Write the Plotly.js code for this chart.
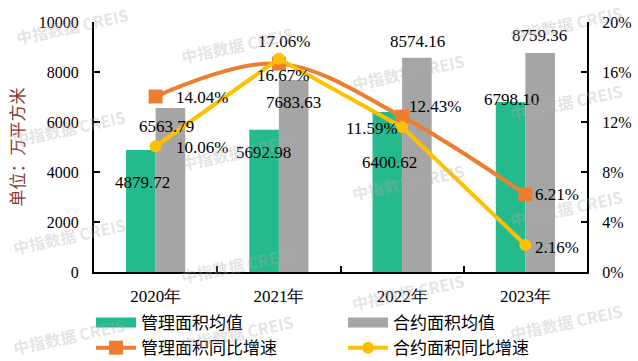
<!DOCTYPE html>
<html>
<head>
<meta charset="utf-8">
<script src="https://cdn.plot.ly/plotly-3.0.1.min.js"></script>
<style>
  html, body { margin: 0; padding: 0; background: #ffffff; }
  #chart { width: 638px; height: 361px; }
</style>
</head>
<body>
<div id="chart"></div>
<script>
// ---- data ----
const years = ['2020年', '2021年', '2022年', '2023年'];
const mgmtArea = [4879.72, 5692.98, 6400.62, 6798.10];        // 管理面积均值 (万平方米)
const contractArea = [6563.79, 7683.63, 8574.16, 8759.36];    // 合约面积均值 (万平方米)
const mgmtGrowth = [14.04, 16.67, 12.43, 6.21];               // 管理面积同比增速 (%)
const contractGrowth = [10.06, 17.06, 11.59, 2.16];           // 合约面积同比增速 (%)
const seriesNames = ['管理面积均值', '合约面积均值', '管理面积同比增速', '合约面积同比增速'];
const leftTicks = [0, 2000, 4000, 6000, 8000, 10000];
const leftTickText = ['0', '2000', '4000', '6000', '8000', '10000'];
const rightTicks = [0, 4, 8, 12, 16, 20];
const rightTickText = ['0%', '4%', '8%', '12%', '16%', '20%'];
const yTitle = '单位：万平方米';
const watermark = '中指数据 CREIS';

// ---- styles ----
const GREEN = '#25BA8E', GRAY = '#A5A5A5', ORANGE = '#ED7D31', YELLOW = '#FFC000';
const NUMFONT = 'Liberation Serif, Times New Roman, serif';
const CJKFONT = 'Noto Sans CJK SC, sans-serif';

// label offsets (px) relative to each data point: [xshift, yshift]
const mgmtAreaOff = [[-13, -32], [-15, -23], [-13, -51], [-14, 3]];
const contractAreaOff = [[11, -19], [15, -23], [15, 16], [14, 18]];
const mgmtGrowthOff = [[46, -1], [4, -12], [33, 10], [32, 0]];
const contractGrowthOff = [[46, -1], [5, 17], [-30, -1], [32, -2]];

const traces = [
  { type: 'bar', x: years, y: mgmtArea, name: seriesNames[0], marker: { color: GREEN }, showlegend: false, yaxis: 'y' },
  { type: 'bar', x: years, y: contractArea, name: seriesNames[1], marker: { color: GRAY }, showlegend: false, yaxis: 'y' },
  { type: 'scatter', mode: 'lines+markers', x: years, y: mgmtGrowth, name: seriesNames[2], yaxis: 'y2',
    line: { color: ORANGE, width: 4, shape: 'spline', smoothing: 1 },
    marker: { symbol: 'square', size: 14, color: ORANGE }, legendrank: 3 },
  { type: 'scatter', mode: 'lines+markers', x: years, y: contractGrowth, name: seriesNames[3], yaxis: 'y2',
    line: { color: YELLOW, width: 4 },
    marker: { symbol: 'circle', size: 12, color: YELLOW }, legendrank: 4 },
  // legend swatches for the bar series
  { type: 'scatter', mode: 'lines', x: [null], y: [null], name: seriesNames[0], line: { color: GREEN, width: 10 }, legendrank: 1, hoverinfo: 'skip' },
  { type: 'scatter', mode: 'lines', x: [null], y: [null], name: seriesNames[1], line: { color: GRAY, width: 10 }, legendrank: 2, hoverinfo: 'skip' }
];

const annotations = [];
function addLabels(vals, offs, yref, fmt) {
  vals.forEach((v, i) => {
    annotations.push({
      x: years[i], y: v, xref: 'x', yref: yref, text: fmt(v), showarrow: false,
      xanchor: 'center', yanchor: 'middle', xshift: offs[i][0], yshift: offs[i][1],
      font: { family: NUMFONT, size: 17, color: '#000000' }
    });
  });
}
addLabels(mgmtArea, mgmtAreaOff, 'y', v => v.toFixed(2));
addLabels(contractArea, contractAreaOff, 'y', v => v.toFixed(2));
addLabels(mgmtGrowth, mgmtGrowthOff, 'y2', v => v.toFixed(2) + '%');
addLabels(contractGrowth, contractGrowthOff, 'y2', v => v.toFixed(2) + '%');

// watermark grid (pixel centres converted to paper coords)
const wmPix = [[72, 26], [237, 45], [408, 72], [566, 24],
               [69, 128], [237, 152], [408, 182], [566, 102],
               [69, 236], [237, 265], [408, 292], [566, 208],
               [69, 336], [237, 333], [566, 322]];
wmPix.forEach(p => {
  annotations.push({
    xref: 'paper', yref: 'paper', x: (p[0] - 94) / 493, y: (272 - p[1]) / 250,
    text: '<b>' + watermark + '</b>', showarrow: false, textangle: -12,
    xanchor: 'center', yanchor: 'middle',
    font: { family: CJKFONT, size: 16, color: 'rgba(170,170,170,0.32)' }
  });
});

const layout = {
  width: 638, height: 361,
  margin: { l: 94, r: 51, t: 22, b: 89, autoexpand: false },
  paper_bgcolor: '#ffffff', plot_bgcolor: '#ffffff',
  barmode: 'group', bargap: 0.52, bargroupgap: 0,
  showlegend: true,
  legend: {
    orientation: 'h', x: -0.006, xanchor: 'left', y: -0.132, yanchor: 'top',
    entrywidth: 197, entrywidthmode: 'pixels', traceorder: 'normal',
    font: { family: CJKFONT, size: 17, color: '#000000' },
    bgcolor: 'rgba(0,0,0,0)', itemwidth: 40, tracegroupgap: 0
  },
  xaxis: {
    type: 'category', showline: true, linecolor: '#000000', linewidth: 2,
    ticks: 'inside', tickson: 'boundaries', ticklen: 6, tickwidth: 2, tickcolor: '#000000',
    showgrid: false, zeroline: false, ticklabelstandoff: 8,
    tickfont: { family: NUMFONT, size: 17, color: '#000000' }
  },
  yaxis: {
    range: [0, 10000], tickvals: leftTicks, ticktext: leftTickText, tickmode: 'array',
    showline: true, linecolor: '#000000', linewidth: 2,
    ticks: 'inside', ticklen: 6, tickwidth: 2, tickcolor: '#000000',
    showgrid: false, zeroline: false, ticklabelstandoff: 10,
    tickfont: { family: NUMFONT, size: 16, color: '#000000' },
    title: { text: yTitle, standoff: 10, font: { family: CJKFONT, size: 17, color: '#8B3A3A' } }
  },
  yaxis2: {
    range: [0, 20], tickvals: rightTicks, ticktext: rightTickText, tickmode: 'array',
    overlaying: 'y', side: 'right',
    showline: true, linecolor: '#000000', linewidth: 2,
    ticks: 'inside', ticklen: 6, tickwidth: 2, tickcolor: '#000000',
    showgrid: false, zeroline: false, ticklabelstandoff: 10,
    tickfont: { family: NUMFONT, size: 16, color: '#000000' }
  },
  annotations: annotations
};

Plotly.newPlot('chart', traces, layout, { staticPlot: true, displayModeBar: false });
</script>
</body>
</html>
